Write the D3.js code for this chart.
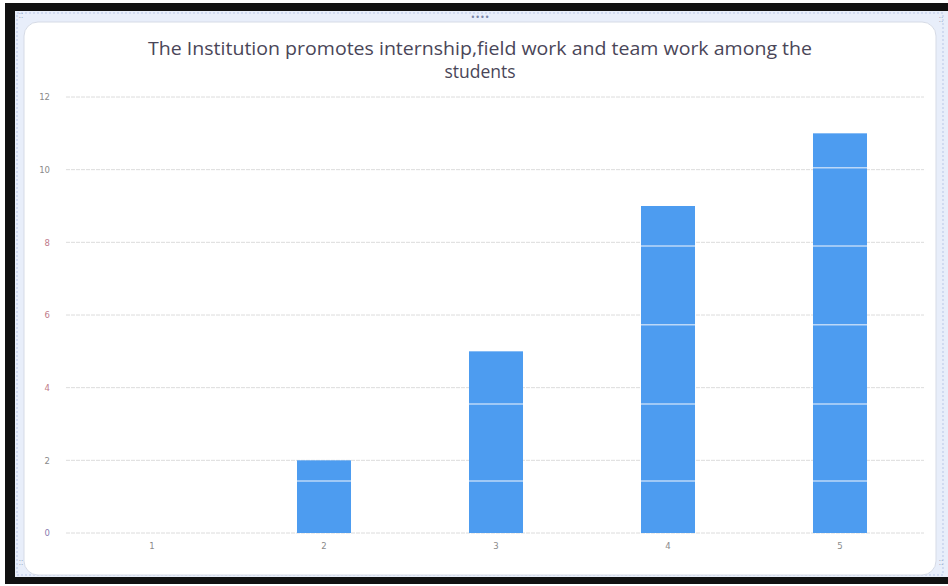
<!DOCTYPE html>
<html>
<head>
<meta charset="utf-8">
<script src="https://cdn.jsdelivr.net/npm/d3@7"></script>
<style>
  html, body { margin: 0; padding: 0; background: #ffffff; }
  svg { display: block; }
</style>
</head>
<body>
<script>
// ---- data ----
const categories = ["1", "2", "3", "4", "5"];
const values = [0, 2, 5, 9, 11];
const yTicks = [0, 2, 4, 6, 8, 10, 12];
const titleLines = ["The Institution promotes internship,field work and team work among the", "students"];
// faint white scan lines crossing the bars (in data units)
const scanLines = [1.43, 3.55, 5.73, 7.9, 10.05];

const W = 948, H = 586;
const svg = d3.select("body").append("svg").attr("width", W).attr("height", H);

// outer black frame (photo of a screen)
svg.append("rect").attr("x", 0).attr("y", 0).attr("width", W).attr("height", H).attr("fill", "#ffffff");
svg.append("rect").attr("x", 5).attr("y", 3).attr("width", W - 5).attr("height", 581).attr("fill", "#111111");
// light blue selection strip
svg.append("rect").attr("x", 15).attr("y", 11).attr("width", W - 15).attr("height", 566)
  .attr("fill", "#e8eefa");
svg.append("rect").attr("x", 17).attr("y", 13).attr("width", 926).attr("height", 562)
  .attr("fill", "none").attr("stroke", "#b9c6e6").attr("stroke-width", 1).attr("stroke-dasharray", "2,2");
// white chart area with rounded corners
svg.append("rect").attr("x", 24).attr("y", 22).attr("width", 912).attr("height", 553).attr("rx", 14)
  .attr("fill", "#ffffff").attr("stroke", "#d6dbe6").attr("stroke-width", 1);

// handles
svg.append("text").attr("x", 480).attr("y", 20).attr("text-anchor", "middle")
  .attr("font-family", "DejaVu Sans").attr("font-size", 8).attr("fill", "#7a86a8").text("••••");
[[21, 18], [21, 565], [941, 22], [941, 565]].forEach(p => {
  svg.append("text").attr("x", p[0]).attr("y", p[1]).attr("text-anchor", "middle")
    .attr("font-family", "DejaVu Sans").attr("font-size", 7).attr("fill", "#7a86a8").text("⁚⁚");
});

// scales
const x = d3.scaleBand().domain(categories).range([66, 926]).paddingInner(0.686).paddingOuter(0.343);
const y = d3.scaleLinear().domain([0, 12]).range([533, 97]);

// title
const title = svg.append("text").attr("text-anchor", "middle")
  .attr("font-family", "'Open Sans', 'Liberation Sans', sans-serif")
  .attr("font-size", 17.5).attr("fill", "#4a4658");
title.append("tspan").attr("x", 480).attr("y", 55).attr("textLength", 664).attr("lengthAdjust", "spacingAndGlyphs").text(titleLines[0]);
title.append("tspan").attr("x", 480).attr("y", 78).text(titleLines[1]);

// gridlines
const g = svg.append("g");
g.selectAll("line.grid").data(yTicks).enter().append("line")
  .attr("x1", 66).attr("x2", 924)
  .attr("y1", d => y(d)).attr("y2", d => y(d))
  .attr("stroke", "#dcdcdc").attr("stroke-width", 1).attr("stroke-dasharray", "4,1");

// y axis labels via d3 axis
const yAxis = d3.axisLeft(y).tickValues(yTicks).tickSize(0).tickPadding(0).tickFormat(d3.format("d"));
const ya = svg.append("g").attr("transform", "translate(50,0)").call(yAxis);
ya.select(".domain").remove();
ya.selectAll("text").attr("font-family", "'DejaVu Sans', sans-serif").attr("font-size", 8.5)
  .attr("fill", (d) => (d === 8 || d === 4 || d === 6) ? "#c07a8a" : (d === 0 ? "#8a7ab0" : "#8a8a8a"));

// x axis labels via d3 axis
const xAxis = d3.axisBottom(x).tickSize(0).tickPadding(0);
const xa = svg.append("g").attr("transform", "translate(0,543)").call(xAxis);
xa.select(".domain").remove();
xa.selectAll("text").attr("font-family", "'DejaVu Sans', sans-serif").attr("font-size", 8.5).attr("fill", "#8a8a8a");

// bars
const data = categories.map((c, i) => ({ c, v: values[i] }));
svg.selectAll("rect.bar").data(data).enter().append("rect")
  .attr("class", "bar")
  .attr("x", d => x(d.c)).attr("width", x.bandwidth())
  .attr("y", d => y(d.v)).attr("height", d => y(0) - y(d.v))
  .attr("fill", "#4d9cf0");

// faint scan lines across bars
data.forEach(d => {
  scanLines.filter(s => s < d.v).forEach(s => {
    svg.append("line")
      .attr("x1", x(d.c)).attr("x2", x(d.c) + x.bandwidth())
      .attr("y1", y(s)).attr("y2", y(s))
      .attr("stroke", "#d8e8fb").attr("stroke-width", 1.5).attr("opacity", 0.8);
  });
});
</script>
</body>
</html>
